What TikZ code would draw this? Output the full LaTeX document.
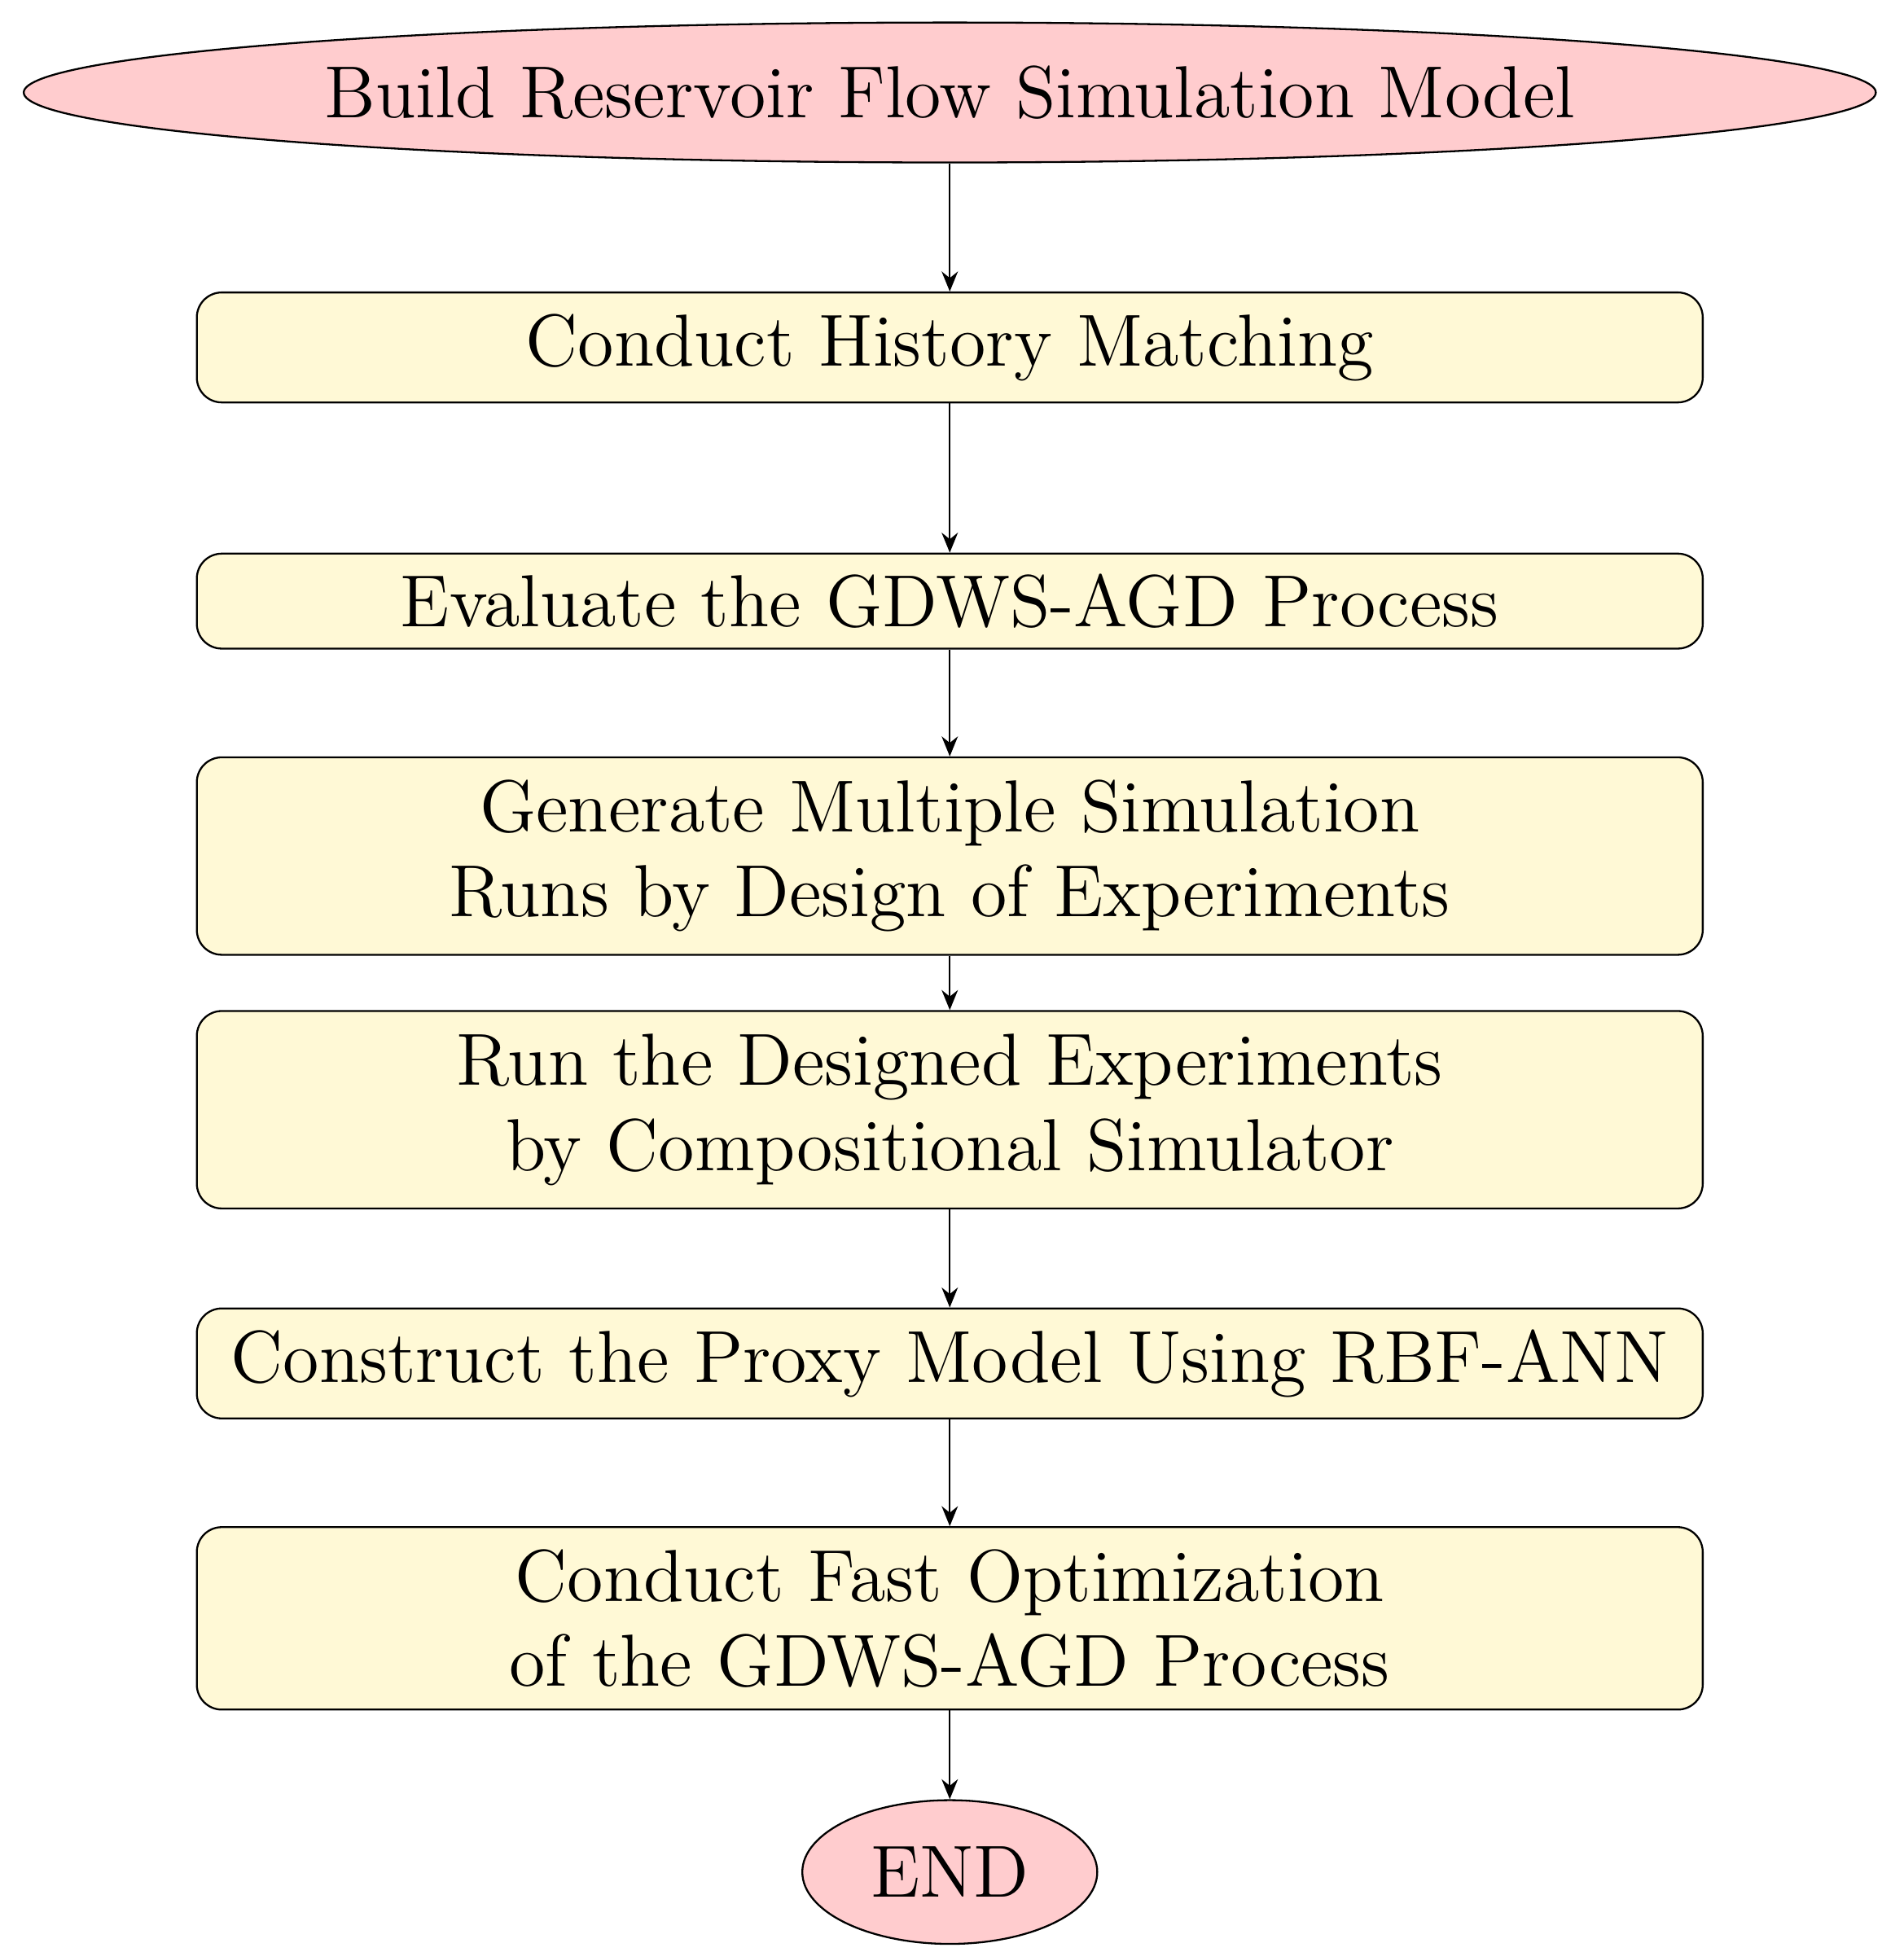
\documentclass[tikz,border=0pt]{standalone}
\usetikzlibrary{shapes.geometric,arrows.meta}
\definecolor{pinkf}{RGB}{255,204,206}
\definecolor{yellf}{RGB}{255,249,214}
\begin{document}
\begin{tikzpicture}[x=0.2pt,y=-0.2pt,
  every node/.style={font=\fontsize{11.8}{13.6}\selectfont},
  term/.style={ellipse,draw,fill=pinkf,inner sep=0pt,line width=0.3pt},
  box/.style={rectangle,rounded corners=4pt,draw,fill=yellf,minimum width=241pt,text width=241pt,align=center,inner sep=0pt,line width=0.3pt},
  arr/.style={-{Stealth[length=3.2pt,width=2.6pt]},line width=0.3pt}]
\useasboundingbox (0,0) rectangle (1523,1562);
\node[term,minimum width=296.4pt,minimum height=22.4pt] (a) at (760,74) {Build Reservoir Flow Simulation Model};
\node[box,minimum height=17.6pt] (b) at (760,278) {Conduct History Matching};
\node[box,minimum height=15.2pt] (c) at (760,481) {Evaluate the GDWS-AGD Process};
\node[box,minimum height=31.6pt] (d) at (760,685) {Generate Multiple Simulation\\Runs by Design of Experiments};
\node[box,minimum height=31.6pt] (e) at (760,888) {Run the Designed Experiments\\by Compositional Simulator};
\node[box,minimum height=17.6pt] (f) at (760,1091) {Construct the Proxy Model Using RBF-ANN};
\node[box,minimum height=29.2pt] (g) at (760,1295) {Conduct Fast Optimization\\of the GDWS-AGD Process};
\node[term,minimum width=47.2pt,minimum height=23pt] (h) at (760,1498) {END};
\draw[arr] (a) -- (b);
\draw[arr] (b) -- (c);
\draw[arr] (c) -- (d);
\draw[arr] (d) -- (e);
\draw[arr] (e) -- (f);
\draw[arr] (f) -- (g);
\draw[arr] (g) -- (h);
\end{tikzpicture}
\end{document}
